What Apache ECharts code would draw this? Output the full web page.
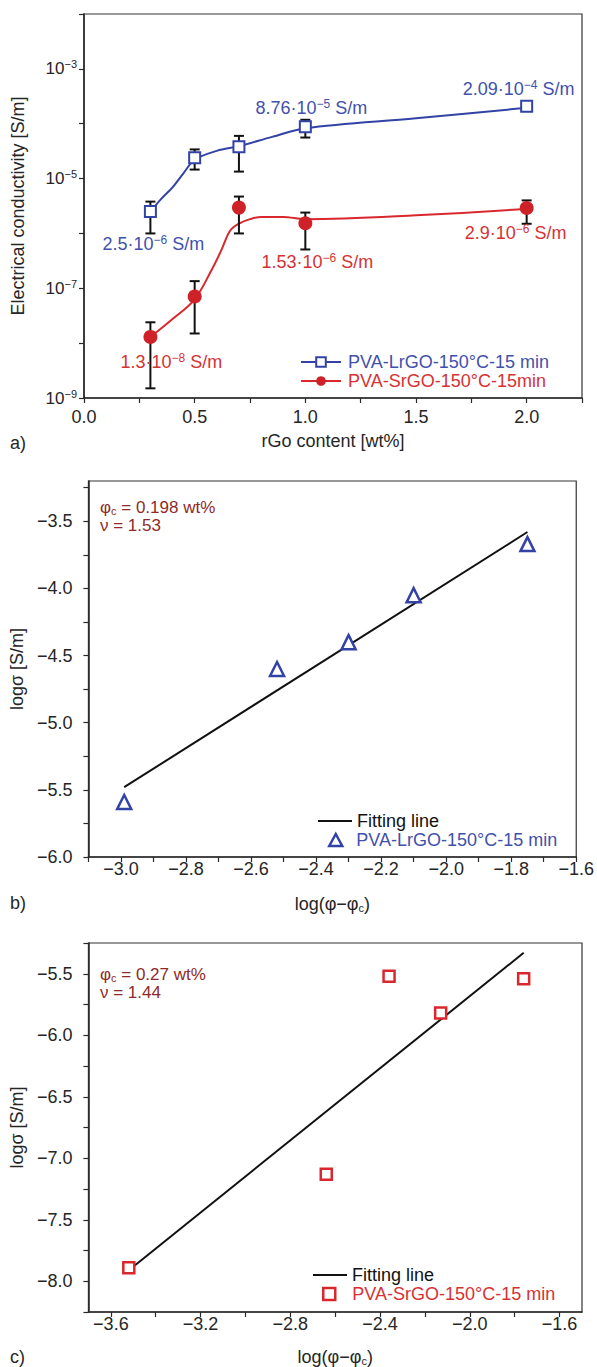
<!DOCTYPE html>
<html><head><meta charset="utf-8">
<script src="https://cdn.jsdelivr.net/npm/echarts@6/dist/echarts.min.js"></script>
<style>html,body{margin:0;padding:0;background:#fff}#c{width:597px;height:1367px}</style>
</head><body><div id="c"></div>
<script>
// ---------- Panel a data ----------
const rgoContent   = [0.3, 0.5, 0.7, 1.0, 2.0];
const lrgoSigma    = [2.5e-6, 2.4e-5, 3.8e-5, 8.76e-5, 2.09e-4];
const lrgoErrLow   = [1.0e-6, 1.46e-5, 1.34e-5, 5.6e-5, 1.7e-4];
const lrgoErrHigh  = [3.8e-6, 3.4e-5, 6.0e-5, 1.18e-4, 2.55e-4];
const srgoSigma    = [1.3e-8, 7.1e-8, 2.96e-6, 1.53e-6, 2.9e-6];
const srgoErrLow   = [1.5e-9, 1.5e-8, 1.0e-6, 5.1e-7, 1.5e-6];
const srgoErrHigh  = [2.4e-8, 1.35e-7, 4.7e-6, 2.4e-6, 4.0e-6];
const lrgoFitX = [0.3, 0.35, 0.4, 0.45, 0.5, 0.6, 0.7, 0.85, 1.0, 1.5, 2.0];
const lrgoFitY = [2.5e-6, 4.3e-6, 6.9e-6, 1.26e-5, 2.2e-5, 3.2e-5, 3.9e-5, 5.75e-5, 8.3e-5, 1.26e-4, 1.95e-4];
const srgoFitX = [0.3, 0.4, 0.5, 0.58, 0.62, 0.66, 0.7, 0.75, 0.8, 0.9, 1.0, 1.5, 2.0];
const srgoFitY = [1.29e-8, 2.75e-8, 6.3e-8, 2.3e-7, 4.9e-7, 1.12e-6, 1.51e-6, 1.82e-6, 2.0e-6, 2.0e-6, 1.82e-6, 2.14e-6, 2.82e-6];
const annotatedA = [true, false, false, true, true];

// ---------- Panel b data ----------
const logPhiB   = [-2.99, -2.52, -2.30, -2.10, -1.75];
const logSigmaB = [-5.59, -4.60, -4.40, -4.05, -3.67];
const fitBX = [-2.99, -1.75];
const fitBY = [-5.48, -3.58];

// ---------- Panel c data ----------
const logPhiC   = [-3.52, -2.64, -2.36, -2.13, -1.76];
const logSigmaC = [-7.89, -7.13, -5.52, -5.82, -5.54];
const fitCX = [-3.52, -1.76];
const fitCY = [-7.91, -5.33];

// ---------- Tick values / labels ----------
const aXTicks  = [0, 0.25, 0.5, 0.75, 1.0, 1.25, 1.5, 1.75, 2.0, 2.25];
const aXLabels = [0, 0.5, 1.0, 1.5, 2.0];
const aYTicks  = [1e-9, 1e-8, 1e-7, 1e-6, 1e-5, 1e-4, 1e-3, 1e-2];
const aYLabels = [1e-9, 1e-7, 1e-5, 1e-3];
const bXTicks  = [-3.1, -3.0, -2.9, -2.8, -2.7, -2.6, -2.5, -2.4, -2.3, -2.2, -2.1, -2.0, -1.9, -1.8, -1.7, -1.6];
const bXLabels = [-3.0, -2.8, -2.6, -2.4, -2.2, -2.0, -1.8, -1.6];
const bYTicks  = [-6.0, -5.75, -5.5, -5.25, -5.0, -4.75, -4.5, -4.25, -4.0, -3.75, -3.5, -3.25];
const bYLabels = [-6.0, -5.5, -5.0, -4.5, -4.0, -3.5];
const cXTicks  = [-3.6, -3.4, -3.2, -3.0, -2.8, -2.6, -2.4, -2.2, -2.0, -1.8, -1.6];
const cXLabels = [-3.6, -3.2, -2.8, -2.4, -2.0, -1.6];
const cYTicks  = [-8.25, -8.0, -7.75, -7.5, -7.25, -7.0, -6.75, -6.5, -6.25, -6.0, -5.75, -5.5, -5.25];
const cYLabels = [-8.0, -7.5, -7.0, -6.5, -6.0, -5.5];

const legendText = {
  lrgoA: 'PVA-LrGO-150°C-15 min', srgoA: 'PVA-SrGO-150°C-15min',
  fitB: 'Fitting line', lrgoB: 'PVA-LrGO-150°C-15 min',
  fitC: 'Fitting line', srgoC: 'PVA-SrGO-150°C-15 min'
};

// ---------- Styles ----------
const FONT = "'Liberation Sans', Arial, Helvetica, sans-serif";
const DARK = '#262626', AXIS = '#2a2a2a';
const BLUE = '#3243a5', BLUE_T = '#3f51ad';
const RED = '#d9282d', RED_M = '#cf2228', RED_T = '#d63234';
const ANN = '#8e2a2a';
const offA_lrgo = [[3, 32], null, null, [6, -19], [-8, -17]];
const offA_srgo = [[21, 25], null, null, [12, 39], [-11, 25]];
const LINE_ICON = 'path://M0,0L34,0L34,2L0,2Z';

const fmtLin = v => (v < 0 ? '−' : '') + Math.abs(v).toFixed(1);
const fmtLog = v => '{b|10}{s|−' + Math.abs(Math.round(Math.log10(v))) + '}';
const supRich = (c) => ({
  a: {fontSize: 18, color: c, fontFamily: FONT, lineHeight: 20},
  s: {fontSize: 12, color: c, fontFamily: FONT, verticalAlign: 'top', lineHeight: 12}
});
const fmtSigma = p => {
  const v = p.value[1];
  const e = Math.floor(Math.log10(v) + 1e-9);
  const m = +(v / Math.pow(10, e)).toPrecision(3);
  return '{a|' + m + '·10}{s|−' + Math.abs(e) + '}{a| S/m}';
};

function axis(type, gi, min, max, ticks, labels, fmt, margin, name, nameGap, extra) {
  return Object.assign({
    type: type, gridIndex: gi, min: min, max: max,
    name: name, nameLocation: 'middle', nameGap: nameGap,
    nameTextStyle: {fontSize: 18, color: DARK, fontFamily: FONT,
      rich: {a: {fontSize: 18, color: DARK, fontFamily: FONT}, sub: {fontSize: 11, color: DARK, fontFamily: FONT, verticalAlign: 'bottom', lineHeight: 10}}},
    axisLine: {show: true, onZero: false, lineStyle: {color: AXIS, width: 1.6}},
    axisTick: {show: true, inside: false, length: 5, customValues: ticks, lineStyle: {color: AXIS, width: 1.2}},
    axisLabel: {customValues: labels, margin: margin, fontSize: 18, color: DARK, fontFamily: FONT, formatter: fmt,
      rich: {b: {fontSize: 17, color: DARK, fontFamily: FONT, lineHeight: 20}, s: {fontSize: 11, color: DARK, fontFamily: FONT, verticalAlign: 'top', lineHeight: 11}}},
    splitLine: {show: false}, minorTick: {show: false}
  }, extra || {});
}

function errSeries(lows, highs) {
  return {
    type: 'custom', xAxisIndex: 0, yAxisIndex: 0, z: 3, silent: true,
    data: rgoContent.map((x, i) => [x, lows[i], highs[i]]),
    encode: {x: 0, y: [1, 2]},
    renderItem: (params, api) => {
      const x = api.value(0);
      const lo = api.coord([x, api.value(1)]);
      const hi = api.coord([x, api.value(2)]);
      const w = 5;
      const st = {stroke: '#111', lineWidth: 2};
      return {type: 'group', children: [
        {type: 'line', shape: {x1: lo[0], y1: lo[1], x2: hi[0], y2: hi[1]}, style: st},
        {type: 'line', shape: {x1: lo[0] - w, y1: lo[1], x2: lo[0] + w, y2: lo[1]}, style: st},
        {type: 'line', shape: {x1: hi[0] - w, y1: hi[1], x2: hi[0] + w, y2: hi[1]}, style: st}
      ]};
    }
  };
}

function pointData(ys, offs, color) {
  return rgoContent.map((x, i) => {
    const item = {value: [x, ys[i]]};
    if (annotatedA[i]) {
      item.label = {show: true, position: 'inside', offset: offs[i], formatter: fmtSigma, rich: supRich(color)};
    }
    return item;
  });
}

function legendOne(name, left, top, w, h, extraItem, textColor, textPad) {
  return {left: left, top: top, orient: 'vertical', itemWidth: w, itemHeight: h, padding: 0,
    selectedMode: false, symbolKeepAspect: true,
    formatter: n => legendText[n],
    textStyle: {fontSize: 18, fontFamily: FONT, color: textColor, padding: [0, 0, 0, textPad || 0]},
    data: [Object.assign({name: name}, extraItem)]};
}

const gridBase = {show: true, borderColor: '#333', borderWidth: 1.2, backgroundColor: 'transparent', containLabel: false};
const SUBRICH = (c) => ({a: {fontSize: 17, fill: c, fontFamily: FONT}, sub: {fontSize: 11, fill: c, fontFamily: FONT, verticalAlign: 'bottom', lineHeight: 10}});

const option = {
  animation: false,
  backgroundColor: '#fff',
  textStyle: {fontFamily: FONT},
  grid: [
    Object.assign({left: 84, top: 14, width: 498, height: 384}, gridBase),
    Object.assign({left: 84, top: 481, width: 498, height: 376}, gridBase),
    Object.assign({left: 84, top: 943, width: 498, height: 369}, gridBase)
  ],
  xAxis: [
    axis('value', 0, 0, 2.25, aXTicks, aXLabels, fmtLin, 10, 'rGo content [wt%]', 34, {position: 'bottom'}),
    axis('value', 1, -3.1, -1.6, bXTicks, bXLabels, fmtLin, 3, '{a|log(φ−φ}{sub|c}{a|)}', 38, {position: 'bottom'}),
    axis('value', 2, -3.7, -1.5, cXTicks, cXLabels, fmtLin, 3, '{a|log(φ−φ}{sub|c}{a|)}', 36, {position: 'bottom'})
  ],
  yAxis: [
    axis('log', 0, 1e-9, 1e-2, aYTicks, aYLabels, fmtLog, 7, 'Electrical conductivity [S/m]', 57, {position: 'left', logBase: 10}),
    axis('value', 1, -6.0, -3.2, bYTicks, bYLabels, fmtLin, 16, 'logσ [S/m]', 57, {position: 'left'}),
    axis('value', 2, -8.25, -5.25, cYTicks, cYLabels, fmtLin, 16, 'logσ [S/m]', 57, {position: 'left'})
  ],
  legend: [
    {left: 300, top: 353, orient: 'vertical', itemWidth: 40, itemHeight: 12, itemGap: 1, padding: 0, selectedMode: false,
     formatter: n => legendText[n], textStyle: {fontSize: 18, fontFamily: FONT, padding: [0, 0, 0, 2]},
     data: [{name: 'lrgoA', textStyle: {color: BLUE_T}, lineStyle: {width: 2}},
            {name: 'srgoA', textStyle: {color: RED_T}, lineStyle: {width: 2}}]},
    legendOne('fitB', 318, 812, 34, 12, {icon: LINE_ICON}, '#111', 0),
    legendOne('lrgoB', 328, 831, 13, 12, {icon: 'triangle', itemStyle: {color: '#fff', borderColor: BLUE, borderWidth: 2.5}}, BLUE_T, 9),
    legendOne('fitC', 313, 1266, 34, 12, {icon: LINE_ICON}, '#111', 0),
    legendOne('srgoC', 322, 1285, 12, 12, {icon: 'rect', itemStyle: {color: '#fff', borderColor: RED, borderWidth: 2.5}}, RED_T, 12)
  ],
  series: [
    {name: 'lrgoFit', type: 'line', xAxisIndex: 0, yAxisIndex: 0, smooth: 0.35, symbol: 'none', z: 2, silent: true,
     data: lrgoFitX.map((x, i) => [x, lrgoFitY[i]]), lineStyle: {color: BLUE, width: 2}},
    {name: 'srgoFit', type: 'line', xAxisIndex: 0, yAxisIndex: 0, smooth: 0.35, symbol: 'none', z: 2, silent: true,
     data: srgoFitX.map((x, i) => [x, srgoFitY[i]]), lineStyle: {color: RED, width: 2}},
    errSeries(lrgoErrLow, lrgoErrHigh),
    errSeries(srgoErrLow, srgoErrHigh),
    {name: 'lrgoA', type: 'line', xAxisIndex: 0, yAxisIndex: 0, z: 5, symbol: 'rect', symbolSize: 11, showAllSymbol: true,
     data: pointData(lrgoSigma, offA_lrgo, BLUE_T), lineStyle: {width: 0, color: BLUE},
     itemStyle: {color: '#fff', borderColor: BLUE, borderWidth: 2}, label: {show: false}},
    {name: 'srgoA', type: 'line', xAxisIndex: 0, yAxisIndex: 0, z: 5, symbol: 'circle', symbolSize: 14, showAllSymbol: true,
     data: pointData(srgoSigma, offA_srgo, RED_T), lineStyle: {width: 0, color: RED},
     itemStyle: {color: RED_M, borderColor: RED_M, borderWidth: 0}, label: {show: false}},
    {name: 'fitB', type: 'line', xAxisIndex: 1, yAxisIndex: 1, symbol: 'none', z: 2,
     data: fitBX.map((x, i) => [x, fitBY[i]]), lineStyle: {color: '#111', width: 2}, itemStyle: {color: '#111'}},
    {name: 'lrgoB', type: 'scatter', xAxisIndex: 1, yAxisIndex: 1, symbol: 'triangle', symbolSize: 14, z: 4,
     data: logPhiB.map((x, i) => [x, logSigmaB[i]]),
     itemStyle: {color: '#fff', borderColor: BLUE, borderWidth: 2.5, opacity: 1}},
    {name: 'fitC', type: 'line', xAxisIndex: 2, yAxisIndex: 2, symbol: 'none', z: 2,
     data: fitCX.map((x, i) => [x, fitCY[i]]), lineStyle: {color: '#111', width: 2}, itemStyle: {color: '#111'}},
    {name: 'srgoC', type: 'scatter', xAxisIndex: 2, yAxisIndex: 2, symbol: 'rect', symbolSize: 11, z: 4,
     data: logPhiC.map((x, i) => [x, logSigmaC[i]]),
     itemStyle: {color: '#fff', borderColor: RED, borderWidth: 2.5, opacity: 1}}
  ],
  graphic: [
    {type: 'text', left: 10, top: 434, style: {text: 'a)', fontSize: 18, fill: DARK, fontFamily: FONT}},
    {type: 'text', left: 10, top: 894, style: {text: 'b)', fontSize: 18, fill: DARK, fontFamily: FONT}},
    {type: 'text', left: 10, top: 1348, style: {text: 'c)', fontSize: 18, fill: DARK, fontFamily: FONT}},
    {type: 'text', left: 100, top: 499, style: {text: '{a|φ}{sub|c}{a| = 0.198 wt%}', fill: ANN, fontFamily: FONT, rich: SUBRICH(ANN)}},
    {type: 'text', left: 100, top: 517, style: {text: 'ν = 1.53', fontSize: 17, fill: ANN, fontFamily: FONT}},
    {type: 'text', left: 100, top: 966, style: {text: '{a|φ}{sub|c}{a| = 0.27 wt%}', fill: ANN, fontFamily: FONT, rich: SUBRICH(ANN)}},
    {type: 'text', left: 100, top: 984, style: {text: 'ν = 1.44', fontSize: 17, fill: ANN, fontFamily: FONT}}
  ]
};

const chart = echarts.init(document.getElementById('c'), null, {renderer: 'svg'});
chart.setOption(option);
</script>
</body></html>
